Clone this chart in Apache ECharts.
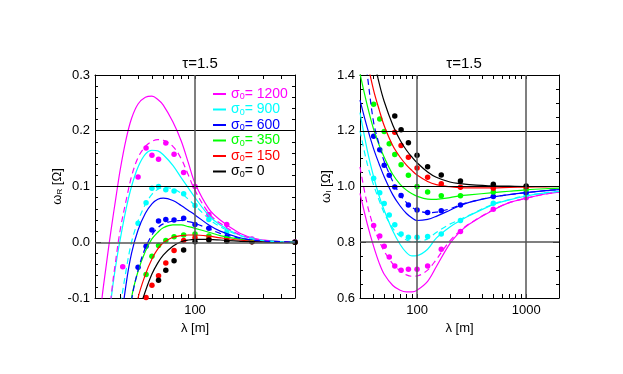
<!DOCTYPE html>
<html>
<head>
<meta charset="utf-8">
<script src="https://cdn.jsdelivr.net/npm/echarts@6/dist/echarts.min.js"></script>
<style>html,body{margin:0;background:#fff}#chart{width:623px;height:374px}</style>
</head>
<body>
<div id="chart"></div>
<script>
var lamL = [20, 22, 24, 26, 28, 30, 33, 36, 40, 45, 50, 55, 60, 70, 80, 90, 100, 125, 150, 200, 250, 300, 400, 500];
var lamR = [30, 35, 40, 45, 50, 60, 70, 80, 90, 100, 125, 150, 200, 250, 300, 500, 700, 1000, 1500, 2000];

// omega_R, solid curves
var rL1200 = [-0.3, -0.12, -0.04, 0.025, 0.08, 0.13, 0.185, 0.222, 0.248, 0.26, 0.262, 0.256, 0.246, 0.216, 0.182, 0.142, 0.106, 0.06, 0.04, 0.018, 0.008, 0.004, 0.001, 0];
var rL900 = [-0.5, -0.35, -0.2, -0.1, -0.04, 0.005, 0.06, 0.1, 0.135, 0.158, 0.165, 0.164, 0.157, 0.138, 0.116, 0.097, 0.08, 0.048, 0.031, 0.014, 0.007, 0.003, 0.001, 0];
var rL600 = [-0.8, -0.7, -0.55, -0.4, -0.27, -0.16, -0.075, -0.02, 0.022, 0.052, 0.069, 0.077, 0.079, 0.075, 0.066, 0.057, 0.049, 0.031, 0.02, 0.009, 0.004, 0.002, 0.001, 0];
var rL350 = [-1, -0.9, -0.75, -0.6, -0.45, -0.33, -0.19, -0.1, -0.052, -0.016, 0.006, 0.018, 0.026, 0.031, 0.031, 0.028, 0.025, 0.018, 0.012, 0.006, 0.003, 0.002, 0.001, 0];
var rL150 = [-1, -0.9, -0.8, -0.65, -0.5, -0.38, -0.26, -0.17, -0.1, -0.058, -0.03, -0.012, -0.001, 0.009, 0.012, 0.013, 0.013, 0.011, 0.008, 0.004, 0.002, 0.001, 0.0005, 0];
var rL0 = [-1.2, -1.1, -0.95, -0.8, -0.65, -0.5, -0.35, -0.2, -0.13, -0.088, -0.057, -0.037, -0.023, -0.007, 0.001, 0.004, 0.005, 0.005, 0.004, 0.002, 0.001, 0.0005, 0, 0];
// omega_R, dashed curves
var rL1200d = [-0.5, -0.35, -0.2, -0.095, -0.03, 0.022, 0.075, 0.118, 0.152, 0.172, 0.181, 0.184, 0.183, 0.172, 0.15, 0.12, 0.093, 0.052, 0.034, 0.015, 0.007, 0.004, 0.001, 0];
var rL900d = [-0.7, -0.6, -0.45, -0.32, -0.2, -0.12, -0.05, 0.0, 0.038, 0.068, 0.086, 0.095, 0.098, 0.096, 0.088, 0.077, 0.066, 0.042, 0.028, 0.013, 0.006, 0.003, 0.001, 0];
var rL600d = [-1, -0.9, -0.75, -0.6, -0.45, -0.33, -0.2, -0.105, -0.05, -0.01, 0.013, 0.026, 0.033, 0.038, 0.039, 0.037, 0.034, 0.024, 0.016, 0.008, 0.004, 0.002, 0.001, 0];

// omega_I, solid curves
var iR1200 = [0.975, 0.865, 0.785, 0.725, 0.685, 0.645, 0.628, 0.622, 0.622, 0.628, 0.66, 0.712, 0.795, 0.839, 0.865, 0.916, 0.942, 0.958, 0.973, 0.98];
var iR900 = [1.265, 1.13, 1.035, 0.965, 0.915, 0.84, 0.792, 0.763, 0.751, 0.752, 0.775, 0.815, 0.855, 0.878, 0.895, 0.935, 0.952, 0.966, 0.977, 0.982];
var iR600 = [1.31, 1.21, 1.135, 1.08, 1.035, 0.97, 0.93, 0.903, 0.887, 0.878, 0.882, 0.893, 0.915, 0.932, 0.943, 0.963, 0.971, 0.978, 0.985, 0.989];
var iR350 = [1.405, 1.29, 1.205, 1.148, 1.105, 1.043, 1.008, 0.987, 0.974, 0.965, 0.955, 0.954, 0.96, 0.967, 0.97, 0.978, 0.983, 0.988, 0.992, 0.994];
var iR150 = [1.62, 1.45, 1.345, 1.275, 1.218, 1.146, 1.105, 1.077, 1.057, 1.041, 1.018, 1.007, 0.999, 0.996, 0.995, 0.995, 0.997, 0.998, 0.999, 1.0];
var iR0 = [1.8, 1.6, 1.46, 1.37, 1.305, 1.22, 1.166, 1.13, 1.105, 1.085, 1.052, 1.033, 1.016, 1.01, 1.007, 1.002, 1.001, 1.0, 1.0, 1.0];
// omega_I, dashed curves
var iR1200d = [1.07, 0.935, 0.855, 0.805, 0.768, 0.722, 0.697, 0.683, 0.678, 0.679, 0.7, 0.738, 0.805, 0.842, 0.866, 0.917, 0.942, 0.958, 0.973, 0.98];
var iR900d = [1.2, 1.08, 1.005, 0.95, 0.905, 0.85, 0.822, 0.808, 0.802, 0.802, 0.812, 0.835, 0.865, 0.882, 0.897, 0.937, 0.953, 0.967, 0.977, 0.982];
var iR600d = [1.6, 1.4, 1.23, 1.15, 1.09, 1.018, 0.97, 0.942, 0.925, 0.915, 0.906, 0.908, 0.92, 0.934, 0.944, 0.963, 0.971, 0.978, 0.985, 0.989];

// dots
var dotLamL = [31.25, 40, 45.5, 50, 55.6, 62.5, 71.4, 83.3, 100, 125, 166.7, 250, 500];
var dL1200 = [-0.044, 0.117, 0.169, 0.156, 0.149, 0.178, 0.158, 0.125, 0.100, 0.050, 0.032, 0.006, 0.001];
var dL900 = [null, 0.034, 0.071, 0.097, 0.100, 0.094, 0.092, 0.087, 0.066, 0.041, 0.018, 0.005, 0.0];
var dL600 = [null, -0.045, -0.007, 0.022, 0.038, 0.041, 0.040, 0.043, 0.032, 0.025, 0.009, 0.002, 0.0];
var dL350 = [null, null, -0.058, -0.025, -0.006, 0.003, 0.010, 0.013, 0.015, 0.011, 0.006, 0.002, 0.0];
var dL150 = [null, null, -0.099, -0.077, -0.06, -0.037, -0.015, 0.003, 0.008, 0.006, 0.003, 0.001, 0.0];
var dL0 = [null, null, null, null, -0.068, -0.05, -0.033, -0.014, 0.001, 0.004, 0.002, 0.001, 0.0];

var dotLamR = [40, 45.5, 50, 55.6, 62.5, 71.4, 83.3, 100, 125, 166.7, 250, 500, 1000];
var dR1200 = [0.86, 0.822, 0.786, 0.747, 0.715, 0.700, 0.703, 0.703, 0.715, 0.775, 0.839, 0.918, 0.960];
var dR900 = [1.03, 0.978, 0.939, 0.898, 0.863, 0.830, 0.818, 0.818, 0.821, 0.830, 0.878, 0.940, 0.970];
var dR600 = [1.18, 1.132, 1.076, 1.040, 0.998, 0.968, 0.934, 0.916, 0.907, 0.913, 0.934, 0.964, 0.978];
var dR350 = [1.295, 1.242, 1.197, 1.153, 1.115, 1.078, 1.040, 1.000, 0.980, 0.967, 0.967, 0.980, 0.990];
var dR150 = [null, null, null, null, 1.195, 1.147, 1.105, 1.066, 1.033, 1.010, 0.997, 0.994, 0.998];
var dR0 = [null, null, null, null, 1.253, 1.204, 1.157, 1.112, 1.071, 1.041, 1.020, 1.008, 1.002];

var sigmas = ['1200', '900', '600', '350', '150', '0'];
var cols = ['#ff00ff', '#00ffff', '#0000ff', '#00ff00', '#ff0000', '#000000'];
var ticksL = [20, 30, 40, 50, 60, 70, 80, 90, 100, 200, 300, 400, 500];
var ticksR = [30, 40, 50, 60, 70, 80, 90, 100, 200, 300, 400, 500, 600, 700, 800, 900, 1000, 2000];

var font = 'Liberation Sans, Arial, sans-serif';

function pairs(xs, ys) {
	var out = [];
	for (var i = 0; i < xs.length; i++) {
		if (ys[i] != null) out.push([xs[i], ys[i]]);
	}
	return out;
}

function logX(grid, min, max, ticks, pos, labels) {
	var ax = {
		gridIndex: grid, type: 'log', logBase: 10, min: min, max: max, position: pos,
		axisLine: {onZero: false, lineStyle: {color: '#000', width: 1}},
		axisTick: {inside: true, length: 4, customValues: ticks, lineStyle: {color: '#000'}},
		axisLabel: {show: false},
		splitLine: {show: false}
	};
	if (labels) {
		ax.axisLabel = {show: true, customValues: labels, color: '#000', fontSize: 13, fontFamily: font, margin: 6,
			formatter: function (v) { return String(Math.round(v)); }};
		ax.name = 'λ [m]';
		ax.nameLocation = 'middle';
		ax.nameGap = 24;
		ax.nameTextStyle = {color: '#000', fontSize: 13, fontFamily: font};
	}
	return ax;
}

function valY(grid, min, max, step, minor, pos, sub) {
	var ax = {
		gridIndex: grid, type: 'value', min: min, max: max, interval: step, position: pos,
		axisLine: {show: true, onZero: false, lineStyle: {color: '#000', width: 1}},
		axisTick: {show: true, inside: true, length: 6, lineStyle: {color: '#000'}},
		minorTick: {show: true, splitNumber: minor, length: 3, lineStyle: {color: '#000'}},
		axisLabel: {show: false},
		splitLine: {show: false}
	};
	if (sub) {
		ax.axisLabel = {show: true, color: '#000', fontSize: 13, fontFamily: font, margin: 5,
			formatter: function (v) { return v.toFixed(1); }};
		ax.name = '{w|ω}{s|' + sub + '}{w| [Ω]}';
		ax.nameLocation = 'middle';
		ax.nameGap = 26;
		ax.nameTextStyle = {color: '#000', fontFamily: font,
			rich: {w: {fontSize: 13, fontFamily: font}, s: {fontSize: 8, fontFamily: font, verticalAlign: 'bottom', lineHeight: 9}}};
	}
	return ax;
}

var gridLine = {color: '#000', width: 1, type: 'solid'};
var grayLine = {color: '#555', width: 1.5, type: 'solid'};

var series = [];
function addPanel(ax, lam, solid, dashed, dotLam, dots, marks) {
	for (var i = 0; i < 6; i++) {
		var s = {
			type: 'line', name: sigmas[i], xAxisIndex: ax, yAxisIndex: ax, color: cols[i],
			data: pairs(lam, solid[i]), smooth: 0.35, symbol: 'none', clip: true,
			lineStyle: {color: cols[i], width: 1.2}
		};
		if (i == 0) {
			s.markLine = {silent: true, symbol: ['none', 'none'], label: {show: false}, data: marks};
		}
		series.push(s);
	}
	for (var j = 0; j < dashed.length; j++) {
		series.push({
			type: 'line', name: sigmas[j] + ' dashed', xAxisIndex: ax, yAxisIndex: ax, color: cols[j],
			data: pairs(lam, dashed[j]), smooth: 0.35, symbol: 'none', clip: true,
			lineStyle: {color: cols[j], width: 1.2, type: [6, 4]}
		});
	}
	for (var k = 0; k < 6; k++) {
		series.push({
			type: 'scatter', name: sigmas[k] + ' dots', xAxisIndex: ax, yAxisIndex: ax,
			data: pairs(dotLam, dots[k]), symbolSize: 5.5, clip: true,
			itemStyle: {color: cols[k], opacity: 1}
		});
	}
}

addPanel(0, lamL, [rL1200, rL900, rL600, rL350, rL150, rL0], [rL1200d, rL900d, rL600d],
	dotLamL, [dL1200, dL900, dL600, dL350, dL150, dL0],
	[{yAxis: 0, lineStyle: grayLine}, {yAxis: 0.1, lineStyle: gridLine}, {yAxis: 0.2, lineStyle: gridLine},
	 {xAxis: 100, lineStyle: grayLine}]);
addPanel(2, lamR, [iR1200, iR900, iR600, iR350, iR150, iR0], [iR1200d, iR900d, iR600d],
	dotLamR, [dR1200, dR900, dR600, dR350, dR150, dR0],
	[{yAxis: 0.8, lineStyle: grayLine}, {yAxis: 1.0, lineStyle: gridLine}, {yAxis: 1.2, lineStyle: gridLine},
	 {xAxis: 100, lineStyle: grayLine}, {xAxis: 1000, lineStyle: grayLine}]);

var option = {
	animation: false,
	backgroundColor: '#fff',
	title: [
		{text: 'τ=1.5', left: 195, top: 51, textAlign: 'center', textStyle: {color: '#000', fontSize: 15, fontWeight: 'normal', fontFamily: font}},
		{text: 'τ=1.5', left: 459, top: 51, textAlign: 'center', textStyle: {color: '#000', fontSize: 15, fontWeight: 'normal', fontFamily: font}}
	],
	grid: [
		{left: 95, top: 75, width: 200, height: 223},
		{left: 360, top: 75, width: 199, height: 223}
	],
	legend: {
		orient: 'vertical', left: 208, top: 82, itemWidth: 13, itemHeight: 2, itemGap: 1, icon: 'rect',
		selectedMode: false,
		data: sigmas.map(function (s, i) { return {name: s, textStyle: {color: cols[i]}}; }),
		formatter: function (n) { return '{a|σ}{b|0}{a|= ' + n + '}'; },
		textStyle: {fontFamily: font, fontSize: 14,
			rich: {a: {fontSize: 14, fontFamily: font, lineHeight: 15}, b: {fontSize: 9, fontFamily: font, verticalAlign: 'bottom', lineHeight: 10}}}
	},
	xAxis: [
		logX(0, 20, 500, ticksL, 'bottom', [100]),
		logX(0, 20, 500, ticksL, 'top', null),
		logX(1, 30, 2000, ticksR, 'bottom', [100, 1000]),
		logX(1, 30, 2000, ticksR, 'top', null)
	],
	yAxis: [
		valY(0, -0.1, 0.3, 0.1, 5, 'left', 'R'),
		valY(0, -0.1, 0.3, 0.1, 5, 'right', null),
		valY(1, 0.6, 1.4, 0.2, 4, 'left', 'I'),
		valY(1, 0.6, 1.4, 0.2, 4, 'right', null)
	],
	series: series
};

var chart = echarts.init(document.getElementById('chart'));
chart.setOption(option);
</script>
</body>
</html>
